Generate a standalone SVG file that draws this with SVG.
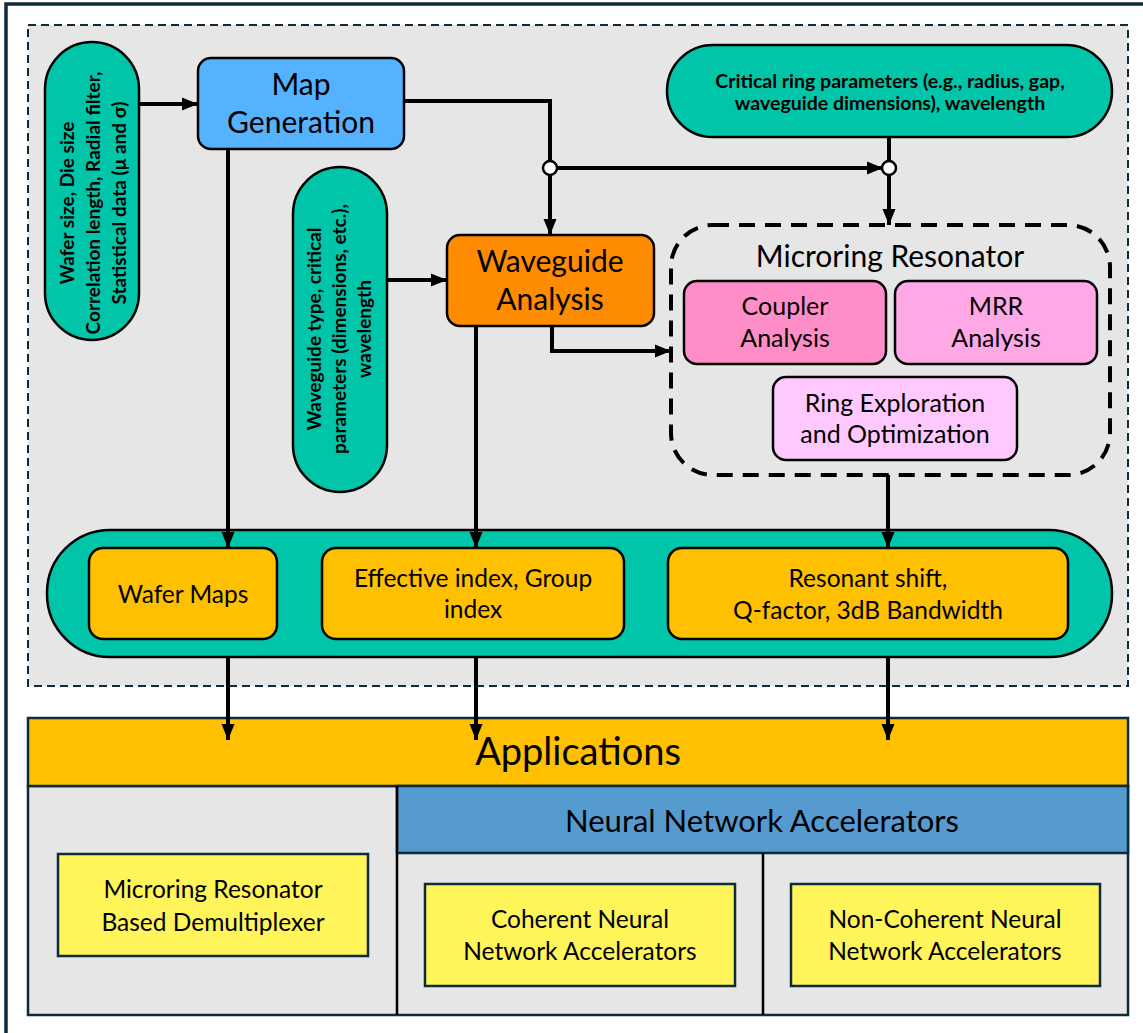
<svg xmlns="http://www.w3.org/2000/svg" width="1143" height="1033" viewBox="0 0 1143 1033">
<defs>
<style>
text{font-family:Lato,"Noto Sans","Liberation Sans",sans-serif;fill:#000;text-anchor:middle}
.b{font-weight:bold;font-size:19px}
.big{font-size:30px}
.mid{font-size:25px}
.sm{font-size:24.5px}
.ln{fill:none;stroke:#000;stroke-width:4}
.arr{marker-end:url(#ah)}
.box{stroke:#000;stroke-width:2.5}
.pill{fill:#00C5A8;stroke:#000;stroke-width:2.5}
.nv{stroke:#0E2B3C;stroke-width:2.5}
</style>
<marker id="ah" markerUnits="userSpaceOnUse" markerWidth="17" markerHeight="17" viewBox="0 0 17 17" refX="16" refY="8.5" orient="auto">
<path d="M0,2 L16,8.5 L0,15 Z" fill="#000"/>
</marker>
</defs>
<rect width="1143" height="1033" fill="#fff"/>
<rect x="6" y="4" width="1200" height="1100" fill="none" stroke="#0E2B3C" stroke-width="3.5"/>
<g id="upper-region">
<rect x="28" y="25" width="1100" height="661" fill="#E6E6E6" stroke="#0E2B3C" stroke-width="2" stroke-dasharray="8,5"/>
</g>
<g id="wafer-inputs">
<rect x="45" y="42" width="94" height="298" rx="47" class="pill"/>
<text class="b" transform="translate(92,203) rotate(-90)"><tspan x="0" y="-18">Wafer size, Die size</tspan><tspan x="0" y="8">Correlation length, Radial filter,</tspan><tspan x="0" y="34">Statistical data (μ and σ)</tspan></text>
</g>
<g id="map-generation">
<rect x="198" y="58" width="206" height="91" rx="13" fill="#55B2FF" class="box"/>
<text class="big" x="301" y="95">Map</text><text class="big" x="301" y="133">Generation</text>
</g>
<g id="ring-params">
<rect x="667" y="45" width="445" height="92" rx="46" class="pill"/>
<text class="b" x="890" y="88" style="font-size:19.5px">Critical ring parameters (e.g., radius, gap,</text>
<text class="b" x="890" y="110" style="font-size:19.5px">waveguide dimensions), wavelength</text>
</g>
<g id="waveguide-inputs">
<rect x="293" y="167" width="94" height="325" rx="47" class="pill"/>
<text class="b" transform="translate(340,329) rotate(-90)"><tspan x="0" y="-19">Waveguide type, critical</tspan><tspan x="0" y="6">parameters (dimensions, etc.),</tspan><tspan x="0" y="31">wavelength</tspan></text>
</g>
<g id="waveguide-analysis">
<rect x="447" y="235" width="207" height="91" rx="13" fill="#FF8C00" class="box"/>
<text class="big" x="550" y="272">Waveguide</text><text class="big" x="550" y="310">Analysis</text>
</g>
<g id="microring-resonator">
<rect x="671" y="225" width="439" height="250" rx="42" fill="none" stroke="#000" stroke-width="4" stroke-dasharray="16,10"/>
<text x="890" y="267" style="font-size:30px">Microring Resonator</text>
</g>
<g id="coupler-analysis">
<rect x="684" y="281" width="202" height="83" rx="13" fill="#FF8EC8" class="box"/>
<text class="mid" x="785" y="315">Coupler</text><text class="mid" x="785" y="347">Analysis</text>
</g>
<g id="mrr-analysis">
<rect x="895" y="281" width="202" height="83" rx="13" fill="#FFA8E6" class="box"/>
<text class="mid" x="996" y="315">MRR</text><text class="mid" x="996" y="347">Analysis</text>
</g>
<g id="ring-exploration">
<rect x="773" y="377" width="244" height="83" rx="13" fill="#FFC8FF" class="box"/>
<text class="mid" x="895" y="412">Ring Exploration</text><text class="mid" x="895" y="443">and Optimization</text>
</g>
<g id="outputs-band">
<rect x="47" y="530" width="1065" height="127" rx="63" class="pill"/>
</g>
<g id="wafer-maps">
<rect x="89" y="548" width="188" height="91" rx="14" fill="#FFC000" class="box"/>
<text class="sm" x="183" y="603">Wafer Maps</text>
</g>
<g id="effective-index">
<rect x="322" y="548" width="302" height="91" rx="14" fill="#FFC000" class="box"/>
<text class="sm" x="473" y="587">Effective index, Group</text><text class="sm" x="473" y="618">index</text>
</g>
<g id="resonant-shift">
<rect x="668" y="548" width="400" height="91" rx="14" fill="#FFC000" class="box"/>
<text class="sm" x="868" y="587">Resonant shift,</text><text class="sm" x="868" y="619">Q-factor, 3dB Bandwidth</text>
</g>
<g id="applications">
<rect x="28" y="786" width="1100" height="229" fill="#E6E6E6" class="nv"/>
<rect x="28" y="718" width="1100" height="68" fill="#FFC000" class="nv"/>
<text x="578" y="765" style="font-size:38px">Applications</text>
</g>
<g id="nn-accelerators">
<rect x="397" y="786" width="731" height="67" fill="#559BCF" class="nv"/>
<text x="762" y="832" style="font-size:31px">Neural Network Accelerators</text>
<line x1="397" y1="786" x2="397" y2="1015" stroke="#000" stroke-width="2.5"/>
<line x1="763" y1="853" x2="763" y2="1015" stroke="#000" stroke-width="2.5"/>
</g>
<g id="demux">
<rect x="58" y="854" width="310" height="102" fill="#FFF45A" class="nv"/>
<text class="sm" x="213" y="898">Microring Resonator</text><text class="sm" x="213" y="931">Based Demultiplexer</text>
</g>
<g id="coherent">
<rect x="425" y="884" width="310" height="102" fill="#FFF45A" class="nv"/>
<text class="sm" x="580" y="928">Coherent Neural</text><text class="sm" x="580" y="960">Network Accelerators</text>
</g>
<g id="non-coherent">
<rect x="791" y="884" width="309" height="102" fill="#FFF45A" class="nv"/>
<text class="sm" x="945" y="928">Non-Coherent Neural</text><text class="sm" x="945" y="960">Network Accelerators</text>
</g>
<g id="connectors">
<path class="ln arr" d="M139,104 H198"/>
<path class="ln arr" d="M228,149 V548"/>
<path class="ln" d="M404,101 H550 V161"/>
<path class="ln arr" d="M550,175 V235"/>
<path class="ln arr" d="M557,168 H883"/>
<path class="ln" d="M889,137 V161"/>
<path class="ln arr" d="M889,175 V225"/>
<path class="ln arr" d="M387,280 H447"/>
<path class="ln arr" d="M552,326 V351 H671"/>
<path class="ln arr" d="M476,326 V548"/>
<path class="ln arr" d="M888,475 V548"/>
<path class="ln arr" d="M228,657 V740"/>
<path class="ln arr" d="M476,657 V740"/>
<path class="ln arr" d="M888,657 V740"/>
<circle cx="550" cy="168" r="7" fill="#fff" stroke="#000" stroke-width="2.5"/>
<circle cx="889" cy="168" r="7" fill="#fff" stroke="#000" stroke-width="2.5"/>
</g>
</svg>
